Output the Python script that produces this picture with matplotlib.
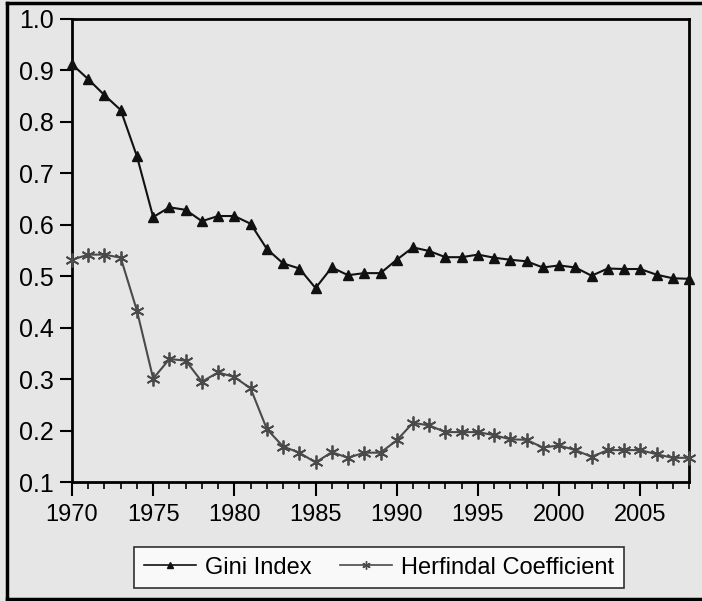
import matplotlib
matplotlib.use("Agg")
import matplotlib.pyplot as plt
from matplotlib.lines import Line2D

years = list(range(1970, 2009))
gini = [0.912, 0.883, 0.852, 0.823, 0.733, 0.615, 0.634, 0.629, 0.607, 0.617,
        0.617, 0.602, 0.553, 0.525, 0.515, 0.477, 0.517, 0.502, 0.506, 0.506,
        0.532, 0.556, 0.549, 0.537, 0.537, 0.542, 0.536, 0.532, 0.529, 0.517,
        0.521, 0.517, 0.501, 0.515, 0.514, 0.514, 0.503, 0.496, 0.495]
herf = [0.532, 0.542, 0.542, 0.536, 0.433, 0.301, 0.339, 0.336, 0.295, 0.313,
        0.304, 0.282, 0.203, 0.169, 0.157, 0.138, 0.158, 0.147, 0.157, 0.157,
        0.181, 0.215, 0.210, 0.197, 0.197, 0.197, 0.191, 0.183, 0.182, 0.167,
        0.171, 0.162, 0.149, 0.162, 0.162, 0.162, 0.154, 0.147, 0.147]
labels = ["Gini Index", "Herfindal Coefficient"]
yticks = [0.1, 0.2, 0.3, 0.4, 0.5, 0.6, 0.7, 0.8, 0.9, 1.0]
xticks = [1970, 1975, 1980, 1985, 1990, 1995, 2000, 2005]

plt.rcParams['font.family'] = ['Liberation Sans', 'DejaVu Sans']
bg = '#e6e6e6'
W, H = 702, 601
fig = plt.figure(figsize=(W / 100, H / 100), dpi=100, facecolor=bg)
ax = fig.add_axes([72 / W, 1 - 482 / H, (689 - 72) / W, (482 - 19) / H])
ax.set_facecolor(bg)

ax.plot(years, gini, color='#111111', lw=1.5, marker='^', ms=7, mfc='#111111',
        mec='#111111', clip_on=False, zorder=3)
ax.plot(years, herf, color='#4a4a4a', lw=1.5, marker=(6, 2, 0), ms=10, mec='#4a4a4a',
        mew=1.3, clip_on=False, zorder=3)

ax.set_xlim(1970, 2008)
ax.set_ylim(0.1, 1.0)
ax.set_yticks(yticks)
ax.set_yticklabels([f"{v:.1f}" for v in yticks])
ax.set_xticks(xticks)
ax.set_xticks(years, minor=True)
for s in ax.spines.values():
    s.set_linewidth(2)
    s.set_color('black')
ax.tick_params(axis='both', which='major', direction='out', width=1.5, color='black')
ax.tick_params(axis='y', which='major', length=9, pad=4, labelsize=18)
ax.tick_params(axis='x', which='major', length=10, pad=6, labelsize=17)
ax.tick_params(axis='x', which='minor', length=5, width=1.2, direction='out')

handles = [Line2D([], [], color='#111111', lw=1.2, marker='^', ms=5),
           Line2D([], [], color='#4a4a4a', lw=1.2, marker=(6, 2, 0), ms=6)]
leg = fig.legend(handles, labels, loc='center', bbox_to_anchor=(379 / W, 1 - 567.5 / H),
                 ncol=2, fontsize=17, frameon=True, fancybox=False, handlelength=2.2,
                 handletextpad=0.4, columnspacing=1.2, borderpad=0.4)
leg.get_frame().set_facecolor('white')
leg.get_frame().set_edgecolor('black')
leg.get_frame().set_linewidth(1.2)

# outer border (top, left, bottom)
fig.add_artist(Line2D([7 / W, 1], [1 - 2.5 / H, 1 - 2.5 / H], color='black', lw=2.5,
                      transform=fig.transFigure))
fig.add_artist(Line2D([7 / W, 7 / W], [1 - 2.5 / H, 1 - 599 / H], color='black', lw=2.5,
                      transform=fig.transFigure))
fig.add_artist(Line2D([7 / W, 1], [1 - 599 / H, 1 - 599 / H], color='black', lw=2.5,
                      transform=fig.transFigure))

fig.savefig('out.png', dpi=100, facecolor=bg)
